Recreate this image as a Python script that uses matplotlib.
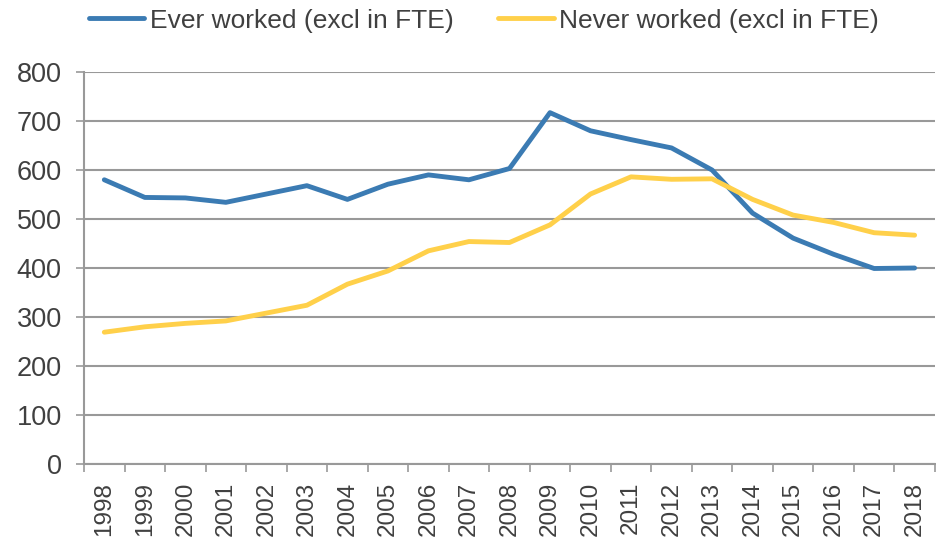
import matplotlib
matplotlib.use("Agg")
import matplotlib.pyplot as plt
import numpy as np

plt.rcParams['font.family'] = ['Liberation Sans', 'DejaVu Sans']

years = [str(y) for y in range(1998, 2019)]
ever_worked = [580, 544, 543, 534, 551, 568, 540, 571, 590, 580, 603,
               717, 680, 662, 645, 600, 512, 461, 428, 399, 400]
never_worked = [269, 280, 287, 292, 308, 324, 367, 394, 435, 454, 452,
                488, 551, 586, 581, 582, 540, 508, 493, 472, 467]
series_labels = ["Ever worked (excl in FTE)", "Never worked (excl in FTE)"]
yticks = [0, 100, 200, 300, 400, 500, 600, 700, 800]

blue = '#3B7BB3'
yellow = '#FFD04A'
grey = '#999999'
text_col = '#404040'

fig = plt.figure(figsize=(9.36, 5.4), dpi=100)
ax = fig.add_axes([0.0898, 0.1407, 0.909, 0.726])

x = np.arange(len(years))
ax.plot(x, ever_worked, color=blue, lw=3.5, solid_joinstyle='round',
        solid_capstyle='round', label=series_labels[0], zorder=3)
ax.plot(x, never_worked, color=yellow, lw=3.5, solid_joinstyle='round',
        solid_capstyle='round', label=series_labels[1], zorder=3)

ax.set_xlim(-0.5, len(years) - 0.5)
ax.set_ylim(0, 800)
ax.set_yticks(yticks)
ax.set_yticklabels([str(v) for v in yticks])
ax.yaxis.grid(True, color=grey, lw=1.5)
ax.set_axisbelow(True)

ax.set_xticks(x)
ax.set_xticklabels(years, rotation=90)
ax.set_xticks(np.arange(-0.5, len(years)), minor=True)
ax.tick_params(axis='x', which='major', length=0, pad=13, labelsize=17.5, labelcolor=text_col)
ax.tick_params(axis='x', which='minor', length=6, color=grey, width=1.2)
ax.tick_params(axis='y', length=6, color=grey, width=1.2, labelsize=19.5, labelcolor=text_col, pad=10)

for s in ['top', 'right']:
    ax.spines[s].set_visible(False)
for s in ['left', 'bottom']:
    ax.spines[s].set_color(grey)
    ax.spines[s].set_linewidth(1.5)

leg = fig.legend(loc='center', bbox_to_anchor=(0.517, 0.962), ncol=2, frameon=False,
                 fontsize=19, handlelength=2.1, handletextpad=0.2, columnspacing=1.7,
                 borderpad=0, borderaxespad=0)
for t in leg.get_texts():
    t.set_color(text_col)

fig.savefig('out.png', dpi=100)
